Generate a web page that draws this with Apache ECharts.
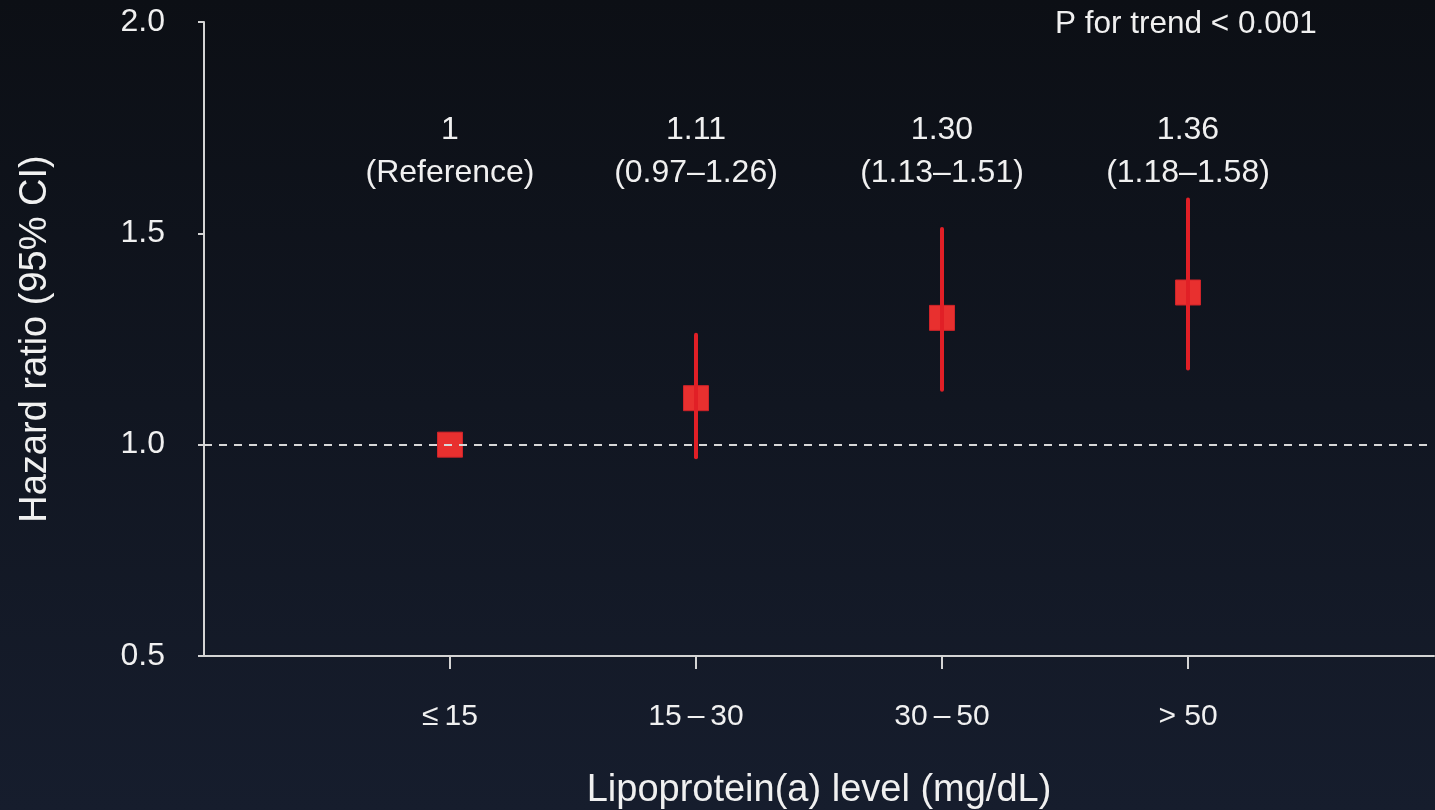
<!DOCTYPE html>
<html>
<head>
<meta charset="utf-8">
<script src="https://cdn.jsdelivr.net/npm/echarts@6/dist/echarts.min.js"></script>
<style>
html,body{margin:0;padding:0;background:#0e1219;}
#chart{width:1435px;height:810px;}
</style>
</head>
<body>
<div id="chart"></div>
<script>
const categories = ['', '≤\u200915', '15\u2009–\u200930', '30\u2009–\u200950', '> 50', ''];
const groups = ['≤\u200915', '15\u2009–\u200930', '30\u2009–\u200950', '> 50'];
const hazardRatio = [1.0, 1.11, 1.30, 1.36];
const ciLower = [null, 0.97, 1.13, 1.18];
const ciUpper = [null, 1.26, 1.51, 1.58];
const annotationTop = ['1', '1.11', '1.30', '1.36'];
const annotationBottom = ['(Reference)', '(0.97–1.26)', '(1.13–1.51)', '(1.18–1.58)'];
const yTicks = [0.5, 1.0, 1.5, 2.0];
const annotationLevel = 1.693;

const FONT = '"Liberation Sans", Arial, Helvetica, sans-serif';
const TXT = '#f0f0f0';
const AX = '#d4d4d4';
const RED = '#e8302f';
const RED_LINE = '#e11f26';

const chart = echarts.init(document.getElementById('chart'));
chart.setOption({
  animation: false,
  backgroundColor: {
    type: 'linear', x: 0, y: 0, x2: 0, y2: 1,
    colorStops: [{offset: 0, color: '#0c0f15'}, {offset: 1, color: '#161d2d'}]
  },
  textStyle: {fontFamily: FONT},
  grid: {left: 204, right: 1, top: 22, bottom: 154, containLabel: false, outerBoundsMode: 'none'},
  graphic: [{
    type: 'text', left: 1055, top: 8,
    style: {text: 'P for trend < 0.001', fill: TXT, font: '31.5px ' + FONT}
  }],
  xAxis: {
    type: 'category',
    data: categories,
    boundaryGap: false,
    name: 'Lipoprotein(a) level (mg/dL)',
    nameLocation: 'middle',
    nameGap: 116,
    nameTextStyle: {color: TXT, fontSize: 38, fontFamily: FONT},
    axisLine: {lineStyle: {color: AX, width: 2}},
    axisTick: {show: true, length: 13, lineStyle: {color: AX, width: 2},
      interval: function (i) { return i >= 1 && i <= 4; }},
    axisLabel: {color: TXT, fontSize: 30, fontFamily: FONT, margin: 46,
      interval: function (i) { return i >= 1 && i <= 4; }},
    splitLine: {show: false}
  },
  yAxis: {
    type: 'value',
    min: 0.5, max: 2.0, interval: 0.5,
    name: 'Hazard ratio (95% CI)',
    nameLocation: 'middle',
    nameGap: 149,
    nameTextStyle: {color: TXT, fontSize: 38, fontFamily: FONT},
    axisLine: {show: true, lineStyle: {color: AX, width: 2}},
    axisTick: {show: true, length: 6, lineStyle: {color: AX, width: 2}},
    axisLabel: {color: TXT, fontSize: 32, fontFamily: FONT, margin: 39,
      formatter: function (v) { return yTicks.indexOf(v) >= 0 ? v.toFixed(1) : ''; }},
    splitLine: {show: false}
  },
  series: [
    {
      type: 'line',
      data: [],
      markLine: {
        silent: true, symbol: 'none',
        label: {show: false},
        lineStyle: {color: '#d8d8d8', type: [8, 7], width: 2},
        data: [{yAxis: 1.0}]
      }
    },
    {
      type: 'scatter',
      symbol: 'rect',
      symbolSize: 25,
      z: 3,
      itemStyle: {color: RED, borderColor: '#cf2329', borderWidth: 1, opacity: 1},
      data: groups.map((g, i) => [g, hazardRatio[i]])
    },
    {
      type: 'custom',
      z: 4,
      data: groups.map((g, i) => [g, ciLower[i], ciUpper[i]]).filter(d => d[1] != null),
      encode: {x: 0, y: [1, 2]},
      renderItem: function (params, api) {
        const lo = api.coord([api.value(0), api.value(1)]);
        const hi = api.coord([api.value(0), api.value(2)]);
        return {
          type: 'line',
          shape: {x1: lo[0], y1: lo[1], x2: hi[0], y2: hi[1]},
          style: {stroke: RED_LINE, lineWidth: 4, lineCap: 'round'}
        };
      }
    },
    {
      type: 'scatter',
      symbolSize: 0,
      z: 5,
      itemStyle: {opacity: 1},
      data: groups.map((g, i) => [g, annotationLevel]),
      label: {
        show: true, position: 'inside', opacity: 1,
        color: TXT, fontSize: 32, fontFamily: FONT, lineHeight: 43, align: 'center',
        formatter: function (p) {
          return annotationTop[p.dataIndex] + '\n' + annotationBottom[p.dataIndex];
        }
      }
    }
  ]
});
</script>
</body>
</html>
